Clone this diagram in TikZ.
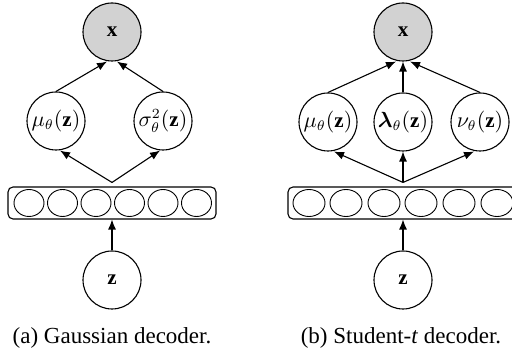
\documentclass[tikz,border=0pt]{standalone}
\usepackage{amsmath}
\usepackage{fontspec}
\setmainfont{Liberation Serif}
\usetikzlibrary{arrows.meta,shapes.geometric}
\begin{document}
\begin{tikzpicture}[x=0.5pt,y=-0.5pt,
  var/.style={draw,circle,line width=0.55pt,minimum size=29pt,inner sep=0pt,font=\fontsize{10.5}{12}\selectfont},
  obs/.style={var,fill=gray!35},
  unit/.style={draw,ellipse,line width=0.45pt,minimum width=#1,minimum height=13.5pt,inner sep=0pt},
  layer/.style={draw,rounded corners=2.5pt,line width=0.55pt,inner sep=0pt},
  arr/.style={-{Latex[length=5pt,width=4pt]},line width=0.55pt},
  captext/.style={font=\fontsize{11.5}{14}\selectfont}]
\clip (0,0) rectangle (512,356);
% ---------- left panel ----------
\node[obs] (xa) at (112,32) {$\mathbf{x}$};
\node[var] (mua) at (56,121) {$\mu_\theta(\mathbf{z})$};
\node[var] (sga) at (163,121) {$\sigma^2_\theta(\mathbf{z})$};
\foreach \i/\xx in {1/29,2/62.5,3/96,4/129.5,5/163,6/196.5}
  \node[unit=15pt] (ea\i) at (\xx,203) {};
\node[layer,minimum width=104pt,minimum height=16pt] (la) at (112,203) {};
\node[var] (za) at (112,280) {$\mathbf{z}$};
\draw[arr] (mua.north) -- ([xshift=-2.5pt]xa.south);
\draw[arr] (sga.north) -- ([xshift=2.5pt]xa.south);
\draw[arr] ([yshift=2pt]la.north) -- ([xshift=2pt]mua.south);
\draw[arr] ([yshift=2pt]la.north) -- ([xshift=-1.5pt]sga.south);
\draw[arr] (za.north) -- (la.south);
\node[captext] (ca) at (112,338) {(a) Gaussian decoder.};
% ---------- right panel ----------
\node[obs] (xb) at (403,32) {$\mathbf{x}$};
\node[var] (mub) at (328,122) {$\mu_\theta(\mathbf{z})$};
\node[var] (lbb) at (403,122) {$\boldsymbol{\lambda}_\theta(\mathbf{z})$};
\node[var] (nub) at (480,122) {$\nu_\theta(\mathbf{z})$};
\foreach \i/\xx in {1/309,2/346,3/384,4/421,5/459,6/497}
  \node[unit=16pt] (eb\i) at (\xx,203) {};
\node[layer,minimum width=115pt,minimum height=16pt] (lb) at (403,203) {};
\node[var] (zb) at (403,280) {$\mathbf{z}$};
\draw[arr] (mub.north) -- ([xshift=-3.5pt]xb.south);
\draw[arr] (lbb.north) -- (xb.south);
\draw[arr] (nub.north) -- ([xshift=3.5pt]xb.south);
\draw[arr] ([yshift=2pt]lb.north) -- ([xshift=3pt]mub.south);
\draw[arr] ([yshift=2pt]lb.north) -- (lbb.south);
\draw[arr] ([yshift=2pt]lb.north) -- ([xshift=-3pt]nub.south);
\draw[arr] (zb.north) -- (lb.south);
\node[captext] (cb) at (401,338) {(b) Student-\textit{t} decoder.};
\end{tikzpicture}
\end{document}
